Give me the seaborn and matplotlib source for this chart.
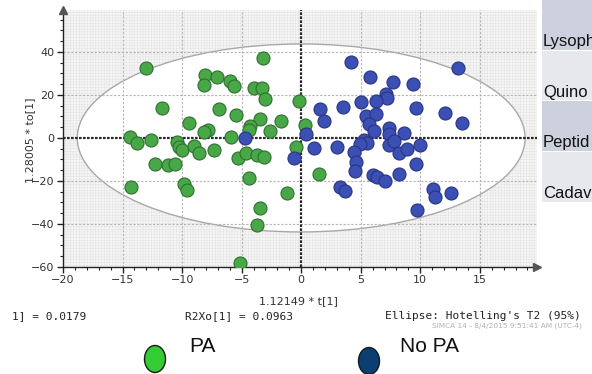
import seaborn as sns
import matplotlib.pyplot as plt
import pandas as pd
from matplotlib.patches import Ellipse, Rectangle

# Score values: t[1] (x) and to[1] (y)
pa_t = [-13.0, -3.2, -8.1, -7.1, -8.2, -6.0, -5.6, -4.0, -3.3, -3.0, -0.2, -11.7, -6.9,
        -5.5, -3.5, -1.7, -9.4, -4.3, -4.4, -7.8, -8.2, -2.6, -5.9, -14.4, 0.3, -13.8,
        -12.6, -10.4, -10.3, -10.0, -9.0, -8.6, -7.3, -5.3, -4.6, -3.7, -3.1, -0.4,
        -12.3, -11.2, -10.6, -4.4, -14.3, -9.8, -9.6, -1.2, -3.5, -3.7, -5.1, 1.5]
pa_to = [32.5, 37.2, 29.3, 28.4, 24.6, 26.6, 24.3, 23.2, 23.2, 18.0, 17.1, 13.9, 13.5,
         10.8, 8.6, 8.1, 7.1, 5.5, 3.9, 3.6, 2.8, 3.4, 0.6, 0.5, 6.1, -2.4,
         -1.1, -1.9, -4.4, -5.5, -3.8, -7.1, -5.8, -9.4, -7.1, -7.9, -8.9, -4.2,
         -12.1, -12.6, -12.0, -18.4, -22.9, -21.4, -24.2, -25.6, -32.7, -40.6, -58.1, -16.8]

nopa_t = [4.2, 13.2, 5.8, 7.7, 9.4, 7.1, 7.2, 6.3, 5.0, 3.5, 1.6, 1.9, 9.6, 12.1, 13.5,
          5.4, 6.3, 5.7, 6.1, 7.4, 7.4, 8.6, 0.4, 5.3, 5.5, 4.9, 4.4, 4.6, 4.5, 1.1,
          3.0, 7.4, 7.8, 8.2, 8.9, 10.0, 9.6, 8.2, 6.0, 6.4, 7.0, 3.3, 3.7, 11.1,
          11.2, 12.6, 9.7, -4.7, -0.6]
nopa_to = [35.1, 32.5, 28.4, 25.9, 25.2, 20.4, 18.5, 17.2, 16.5, 14.4, 13.3, 8.1, 13.9,
           11.8, 7.1, 10.2, 11.0, 6.3, 3.1, 4.7, 2.0, 2.4, 2.0, -0.8, -2.5, -2.6, -6.3,
           -11.0, -15.3, -4.7, -4.2, -3.3, -1.6, -7.1, -5.2, -3.4, -11.9, -16.8, -17.3,
           -18.1, -19.9, -22.8, -24.6, -23.9, -27.5, -25.6, -33.7, 0.0, -9.4]

x_ticks = [-20, -15, -10, -5, 0, 5, 10, 15]
y_ticks = [-60, -40, -20, 0, 20, 40]
table_labels = ['Lysoph', 'Quino', 'Peptid', 'Cadav']

scores = pd.DataFrame({
    't': pa_t + nopa_t,
    'to': pa_to + nopa_to,
    'group': ['PA'] * len(pa_t) + ['No PA'] * len(nopa_t),
})

sns.set_theme(style='white')
plt.rcParams['hatch.linewidth'] = 0.3

fig = plt.figure(figsize=(5.92, 3.74), dpi=100)
ax = fig.add_axes([63 / 592, 107 / 374, 474 / 592, 257 / 374])
ax.set_xlim(-20, 19.8)
ax.set_ylim(-60, 59.5)

# fine grey mesh behind the plot, white Hotelling ellipse on top
ax.set_facecolor('#f5f5f5')
ax.add_patch(Rectangle((-20, -60), 40, 120, facecolor='none', edgecolor='#e0e0e0',
                       hatch='++++++', linewidth=0, zorder=0))
ax.add_patch(Ellipse((0, 0), 2 * 18.8, 2 * 43.7, facecolor='white',
                     edgecolor='#a8a8a8', linewidth=1.0, zorder=1))

for v in [-15, -10, -5, 5, 10, 15]:
    ax.axvline(v, color='#b5b5b5', lw=0.8, ls=(0, (2, 1.5)), zorder=2)
for v in [-40, -20, 20, 40]:
    ax.axhline(v, color='#b5b5b5', lw=0.8, ls=(0, (2, 1.5)), zorder=2)
ax.axvline(0, color='#2a2a2a', lw=1.6, ls=(0, (1.2, 0.6)), zorder=2)
ax.axhline(0, color='#2a2a2a', lw=1.6, ls=(0, (1.2, 0.6)), zorder=2)

sns.scatterplot(data=scores[scores.group == 'PA'], x='t', y='to', ax=ax,
                color='#48a848', edgecolor='#2f6f2f', linewidth=0.8, s=88,
                zorder=3, legend=False)
sns.scatterplot(data=scores[scores.group == 'No PA'], x='t', y='to', ax=ax,
                color='#3b4fb4', edgecolor='#283680', linewidth=0.8, s=88,
                zorder=3, legend=False)

# axes: only left and bottom, with arrow heads
for side in ['top', 'right']:
    ax.spines[side].set_visible(False)
for side in ['left', 'bottom']:
    ax.spines[side].set_color('#222222')
    ax.spines[side].set_linewidth(1.0)
ax.set_xticks(x_ticks)
ax.set_yticks(y_ticks)
ax.set_xticks(range(-20, 20), minor=True)
ax.set_yticks(range(-60, 60, 5), minor=True)
ax.tick_params(which='major', length=4, width=1, color='#222222', labelsize=8,
               labelcolor='#333333', direction='out', pad=2, left=True, bottom=True)
ax.tick_params(which='minor', length=2, width=0.8, color='#222222', direction='out',
               left=True, bottom=True)
ax.plot(1.0, 0, marker='>', color='#555555', markersize=6, transform=ax.transAxes,
        clip_on=False, zorder=5)
ax.plot(0, 1.0, marker='^', color='#555555', markersize=6, transform=ax.transAxes,
        clip_on=False, zorder=5)

ax.set_xlabel('')
ax.set_ylabel('')
fig.text(298 / 592, 1 - 301 / 374, '1.12149 * t[1]', ha='center', va='center',
         fontsize=8, color='#333333')
fig.text(30 / 592, 1 - 140 / 374, '1.28005 * to[1]', ha='center', va='center',
         rotation=90, fontsize=8, color='#333333')

# statistics line and timestamp
mono = dict(family='DejaVu Sans Mono', fontsize=8, color='#222222', va='center')
fig.text(12 / 592, 1 - 316 / 374, '1] = 0.0179', **mono)
fig.text(185 / 592, 1 - 316 / 374, 'R2Xo[1] = 0.0963', **mono)
fig.text(385 / 592, 1 - 316 / 374, "Ellipse: Hotelling's T2 (95%)", **mono)
fig.text(432 / 592, 1 - 326 / 374, 'SIMCA 14 - 8/4/2015 9:51:41 AM (UTC-4)',
         fontsize=5.3, color='#b0b0b0', va='center')

# overlay in pixel space for the legend and the side table
ov2 = fig.add_axes([0, 0, 1, 1], zorder=10)
ov2.set_xlim(0, 592)
ov2.set_ylim(374, 0)
ov2.axis('off')
ov2.patch.set_alpha(0)

ov2.add_patch(Ellipse((155, 359), 21, 27, facecolor='#33cc33', edgecolor='#1a1a1a', lw=1))
ov2.text(189, 346, 'PA', fontsize=15, family='Liberation Sans', va='center', color='#111111')
ov2.add_patch(Ellipse((369, 361), 21, 27, facecolor='#0b3f72', edgecolor='#1a1a1a', lw=1))
ov2.text(400, 346, 'No PA', fontsize=15, family='Liberation Sans', va='center', color='#111111')

row_colors = ['#cdd1dd', '#e7e8ee', '#cdd1dd', '#e7e8ee']
for i, (lab, col) in enumerate(zip(table_labels, row_colors)):
    top = i * 50.7
    ov2.add_patch(Rectangle((542, top), 60, 49.5, facecolor=col, edgecolor='none'))
    ov2.text(543, top + 46, lab, fontsize=12, family='Liberation Sans',
             va='baseline', color='#111111', clip_on=True)

fig.savefig('out.png', dpi=100)
plt.close()
